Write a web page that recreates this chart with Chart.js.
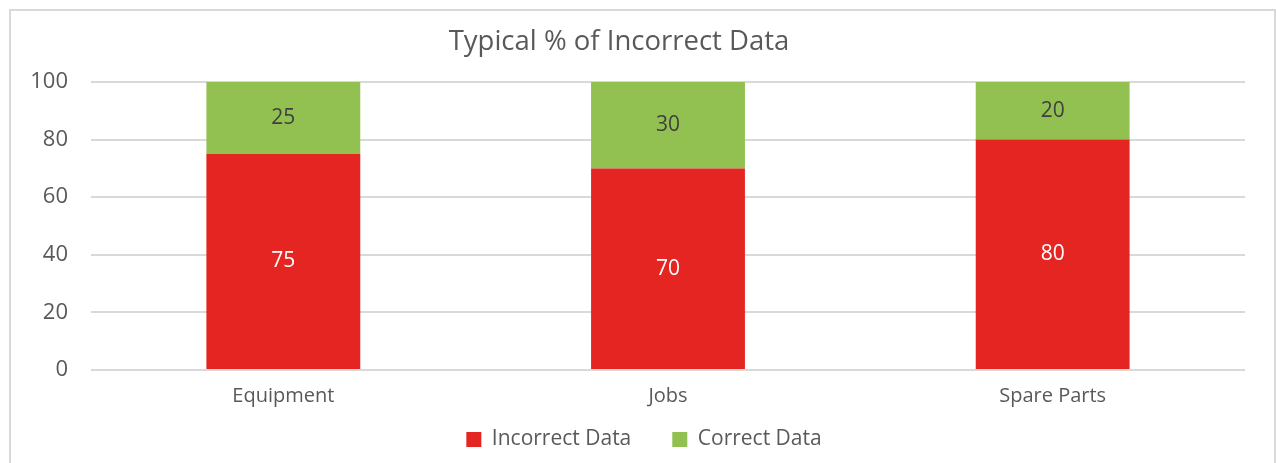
<!DOCTYPE html>
<html>
<head>
<meta charset="utf-8">
<script src="https://cdn.jsdelivr.net/npm/chart.js@4"></script>
<style>
  html, body { margin: 0; padding: 0; background: #fff; overflow: hidden; }
  #wrap { position: relative; width: 1276px; height: 463px; }
  #frame {
    position: absolute; left: 9px; top: 9px; width: 1263px; height: 470px;
    border: 2px solid #d9d9d9; pointer-events: none;
  }
</style>
</head>
<body>
<div id="wrap">
  <canvas id="chart" width="1276" height="463"></canvas>
  <div id="frame"></div>
</div>
<script>
const chartTitle = 'Typical % of Incorrect Data';
const categories = ['Equipment', 'Jobs', 'Spare Parts'];
const incorrectData = [75, 70, 80];
const correctData = [25, 30, 20];
const yTicks = [0, 20, 40, 60, 80, 100];

const FONT = "'Open Sans', sans-serif";
const TEXT = '#595959';

// etiquetas de valor no meio de cada barra
const barLabels = {
    id: 'barLabels',
    afterDatasetsDraw(chart) {
        const ctx = chart.ctx;
        ctx.save();
        ctx.font = `21px ${FONT}`;
        ctx.textAlign = 'center';
        ctx.textBaseline = 'middle';
        chart.data.datasets.forEach((ds, i) => {
            const meta = chart.getDatasetMeta(i);
            meta.data.forEach((bar, j) => {
                const mid = (bar.y + bar.base) / 2;
                ctx.fillStyle = ds.labelColor;
                ctx.fillText(String(ds.data[j]), bar.x, mid);
            });
        });
        ctx.restore();
    }
};

// título desenhado à mão, um pouco à esquerda do centro como no original
const titleText = {
    id: 'titleText',
    afterDraw(chart) {
        const ctx = chart.ctx;
        ctx.save();
        ctx.font = `27.5px ${FONT}`;
        ctx.fillStyle = TEXT;
        ctx.textAlign = 'center';
        ctx.textBaseline = 'middle';
        ctx.fillText(chartTitle, chart.width / 2 - 19, 42);
        ctx.restore();
    }
};

// legenda com espaço largo entre itens mas altura compacta
const legendFix = {
    id: 'legendFix',
    afterInit(chart) {
        const lg = chart.legend;
        const fit = lg.fit.bind(lg);
        lg.fit = function () { fit(); this.height = 41; };
    },
    afterLayout(chart) {
        const lg = chart.legend;
        lg.top = chart.chartArea.bottom + 18;
        lg.bottom = lg.top + 80;
        lg.left += 6;
        lg.right += 6;
    }
};

new Chart(document.getElementById('chart'), {
    type: 'bar',
    data: {
        labels: categories,
        datasets: [
            {
                label: 'Incorrect Data',
                data: incorrectData,
                backgroundColor: '#e52521',
                labelColor: '#ffffff',
                barPercentage: 0.4,
                categoryPercentage: 1
            },
            {
                label: 'Correct Data',
                data: correctData,
                backgroundColor: '#92c152',
                labelColor: '#404040',
                barPercentage: 0.4,
                categoryPercentage: 1
            }
        ]
    },
    options: {
        responsive: false,
        animation: false,
        layout: { padding: { top: 82, bottom: 0, left: 0, right: 0 } },
        plugins: {
            legend: {
                position: 'bottom',
                labels: {
                    boxWidth: 15,
                    boxHeight: 15,
                    padding: 41,
                    color: TEXT,
                    font: { family: FONT, size: 21 }
                }
            },
            title: { display: false },
            tooltip: { enabled: false }
        },
        scales: {
            x: {
                stacked: true,
                grid: { display: false, drawTicks: false },
                border: { display: false },
                ticks: {
                    color: TEXT,
                    padding: 14,
                    font: { family: FONT, size: 20 }
                }
            },
            y: {
                stacked: true,
                min: 0,
                max: 100,
                afterBuildTicks: s => { s.ticks = yTicks.map(v => ({ value: v })); },
                afterFit: s => { s.width = 91; },
                grid: { color: '#d9d9d9', lineWidth: 2, drawTicks: false },
                border: { display: false },
                ticks: {
                    color: TEXT,
                    padding: 23,
                    font: { family: FONT, size: 22 }
                }
            },
            yRight: {
                position: 'right',
                display: true,
                grid: { display: false },
                border: { display: false },
                ticks: { display: false },
                afterFit: s => { s.width = 31; }
            }
        }
    },
    plugins: [barLabels, titleText, legendFix]
});
</script>
</body>
</html>
